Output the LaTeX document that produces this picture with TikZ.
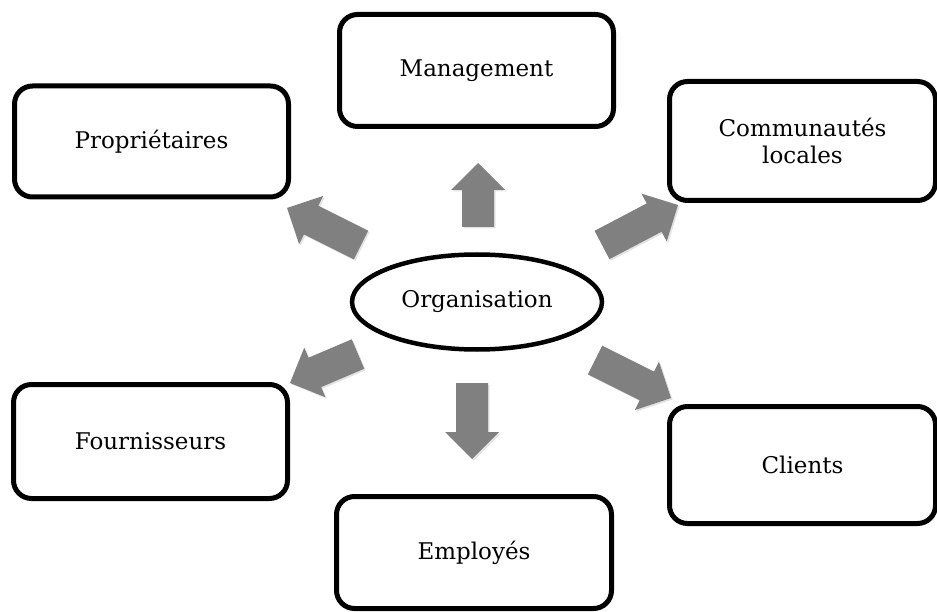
\documentclass[tikz,border=0pt]{standalone}
\usepackage{fontspec}
\setmainfont{DejaVu Serif}
\usetikzlibrary{calc,shapes.geometric,shadows}
\definecolor{arrowgray}{RGB}{128,128,128}
\newcommand{\blockarr}[3]{%
  \coordinate (#3b) at ($(#2)!27pt!(#1)$);
  \fill[blockarrow]
    ($(#1)!16pt!90:(#2)$) -- ($(#3b)!16pt!90:(#2)$) -- ($(#3b)!27pt!90:(#2)$) -- (#2)
    -- ($(#3b)!27pt!-90:(#2)$) -- ($(#3b)!16pt!-90:(#2)$) -- ($(#1)!16pt!-90:(#2)$) -- cycle;}
\tikzset{
  box/.style={draw, rounded corners=18pt, line width=5pt, align=center,
    inner sep=0pt, font=\fontsize{23}{27}\selectfont},
  oval/.style={draw, ellipse, line width=4.5pt, inner sep=0pt,
    font=\fontsize{23}{27}\selectfont},
  blockarrow/.style={arrowgray, drop shadow={opacity=0.22, shadow xshift=1.5pt, shadow yshift=-1.5pt}}
}
\begin{document}
\begin{tikzpicture}[x=1pt,y=-1pt]
\useasboundingbox (0,0) rectangle (937,612);
\node[box, minimum width=274pt, minimum height=111pt] (prop) at (151.5,141.5) {Propriétaires};
\node[box, minimum width=274pt, minimum height=112pt] (mgmt) at (476.5,70.5) {Management};
\node[box, minimum width=266pt, minimum height=119pt] (comm) at (802.5,141) {Communautés\\locales};
\node[box, minimum width=266pt, minimum height=117pt] (clients) at (802.5,465) {Clients};
\node[box, minimum width=274pt, minimum height=114pt] (fourn) at (150.5,441.5) {Fournisseurs};
\node[box, minimum width=275pt, minimum height=112pt] (empl) at (474,552.5) {Employés};
\node[oval, minimum width=250pt, minimum height=95pt] (org) at (477,302) {Organisation};
% arrows
\coordinate (t1) at (478,227); \coordinate (h1) at (478,163);
\coordinate (t2) at (472,383); \coordinate (h2) at (472,459);
\coordinate (t3) at (361,245); \coordinate (h3) at (287,208);
\coordinate (t4) at (602,245); \coordinate (h4) at (678,205);
\coordinate (t5) at (358,354); \coordinate (h5) at (290,383);
\coordinate (t6) at (595,360); \coordinate (h6) at (671,398);
\blockarr{t1}{h1}{a1}
\blockarr{t2}{h2}{a2}
\blockarr{t3}{h3}{a3}
\blockarr{t4}{h4}{a4}
\blockarr{t5}{h5}{a5}
\blockarr{t6}{h6}{a6}
\end{tikzpicture}
\end{document}
